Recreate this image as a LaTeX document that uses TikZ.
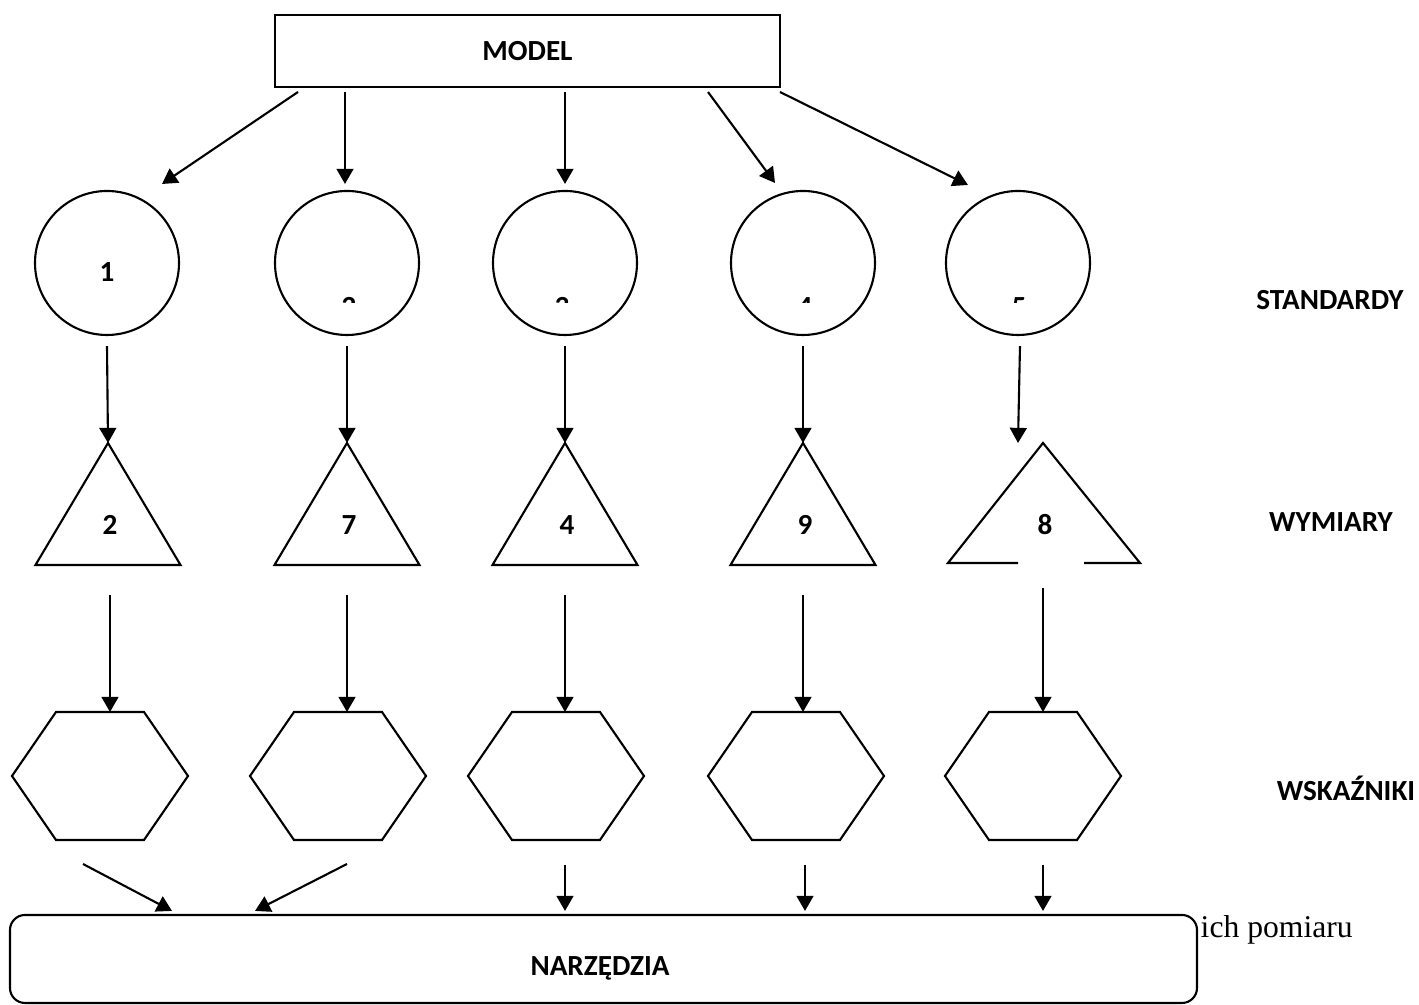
\documentclass[tikz,border=0pt]{standalone}
\usepackage{fontspec}
\setmainfont{Carlito}
\newfontfamily\serifont{Liberation Serif}
\usetikzlibrary{arrows.meta}
\tikzset{
  arr/.style = {-{Triangle[length=4.3pt,width=4.8pt]}, line width=0.6pt},
  shp/.style = {line width=0.6pt},
  lbl/.style = {font=\bfseries\fontsize{8.3}{10}\selectfont}
}
\begin{document}
\begin{tikzpicture}[lbl]
  \useasboundingbox (0,0) rectangle (14.19,10.05);
  \node[draw, shp, minimum width=5.05cm, minimum height=0.72cm] (model) at (5.275,9.54) {MODEL};
  \foreach \i/\x in {1/1.07, 2/3.47, 3/5.65, 4/8.03, 5/10.18}
    \node[draw, shp, circle, minimum size=1.44cm] (s\i) at (\x,7.42) {};
  \node (n1) at (1.07,7.33) {1};
  \begin{scope}
    \clip (2.5,7.02) rectangle (11,7.3);
    \foreach \i/\x in {2/3.49, 3/5.62, 4/8.05, 5/10.19}
      \node[anchor=north, inner sep=0pt] (n\i) at (\x,7.08) {\i};
  \end{scope}
  \foreach \i/\x/\n in {1/1.08/2, 2/3.47/7, 3/5.65/4, 4/8.03/9} {
    \draw[shp] (\x,5.62) coordinate (t\i) -- (\x+0.725,4.40) -- (\x-0.725,4.40) -- cycle;
    \node (w\i) at (\x+0.02,4.80) {\n};
  }
  \draw[shp] (10.18,4.42) -- (9.48,4.42) -- (10.43,5.62) coordinate (t5) -- (11.40,4.42) -- (10.84,4.42);
  \node (w5) at (10.45,4.80) {8};
  \foreach \i/\x in {1/1.00, 2/3.38, 3/5.56, 4/7.96, 5/10.33}
    \draw[shp] (\x-0.88,2.29) -- (\x-0.44,2.93) coordinate (h\i) -- (\x+0.44,2.93)
      -- (\x+0.88,2.29) -- (\x+0.44,1.65) -- (\x-0.44,1.65) -- cycle;
  \node[draw, shp, rounded corners=0.15cm, minimum width=11.87cm, minimum height=0.88cm] (tools) at (6.035,0.46) {};
  \coordinate (top) at ([yshift=0.03cm]tools.north);
  \node (nt) at (6.0,0.37) {NARZĘDZIA};
  \node[font=\serifont\fontsize{9}{11}\selectfont, anchor=base west, inner sep=0pt] (pom) at (12.0,0.67) {ich pomiaru};
  \node (std) at (13.30,7.05) {STANDARDY};
  \node (wym) at (13.31,4.83) {WYMIARY};
  \node (wsk) at (13.46,2.17) {WSKAŹNIKI};
  \draw[arr] ([shift={(-2.295,-0.41)}]model.center) -- ([shift={(0.55,0.79)}]s1.center);
  \draw[arr] ([shift={(-1.825,-0.41)}]model.center) -- ([shift={(-0.02,0.06)}]s2.north);
  \draw[arr] ([shift={(0.375,-0.41)}]model.center) -- ([yshift=0.06cm]s3.north);
  \draw[arr] ([shift={(1.805,-0.41)}]model.center) -- ([shift={(-0.28,0.80)}]s4.center);
  \draw[arr] ([shift={(2.525,-0.41)}]model.center) -- ([shift={(-0.50,0.78)}]s5.center);
  \foreach \i in {1,...,4}
    \draw[arr] ([yshift=-0.10cm]s\i.south) -- (t\i);
  \draw[arr] ([shift={(0.02,-0.10)}]s5.south) -- ([xshift=-0.25cm]t5);
  \foreach \i/\x in {1/1.10, 2/3.47, 3/5.65, 4/8.03}
    \draw[arr] (\x,4.10) -- (h\i -| \x,0);
  \draw[arr] (10.43,4.17) -- (h5 -| 10.43,0);
  \draw[arr] (0.83,1.41) -- (top -| 1.72,0);
  \draw[arr] (3.47,1.41) -- (top -| 2.55,0);
  \foreach \x in {5.65, 8.05, 10.43}
    \draw[arr] (\x,1.40) -- (top -| \x,0);
\end{tikzpicture}
\end{document}
